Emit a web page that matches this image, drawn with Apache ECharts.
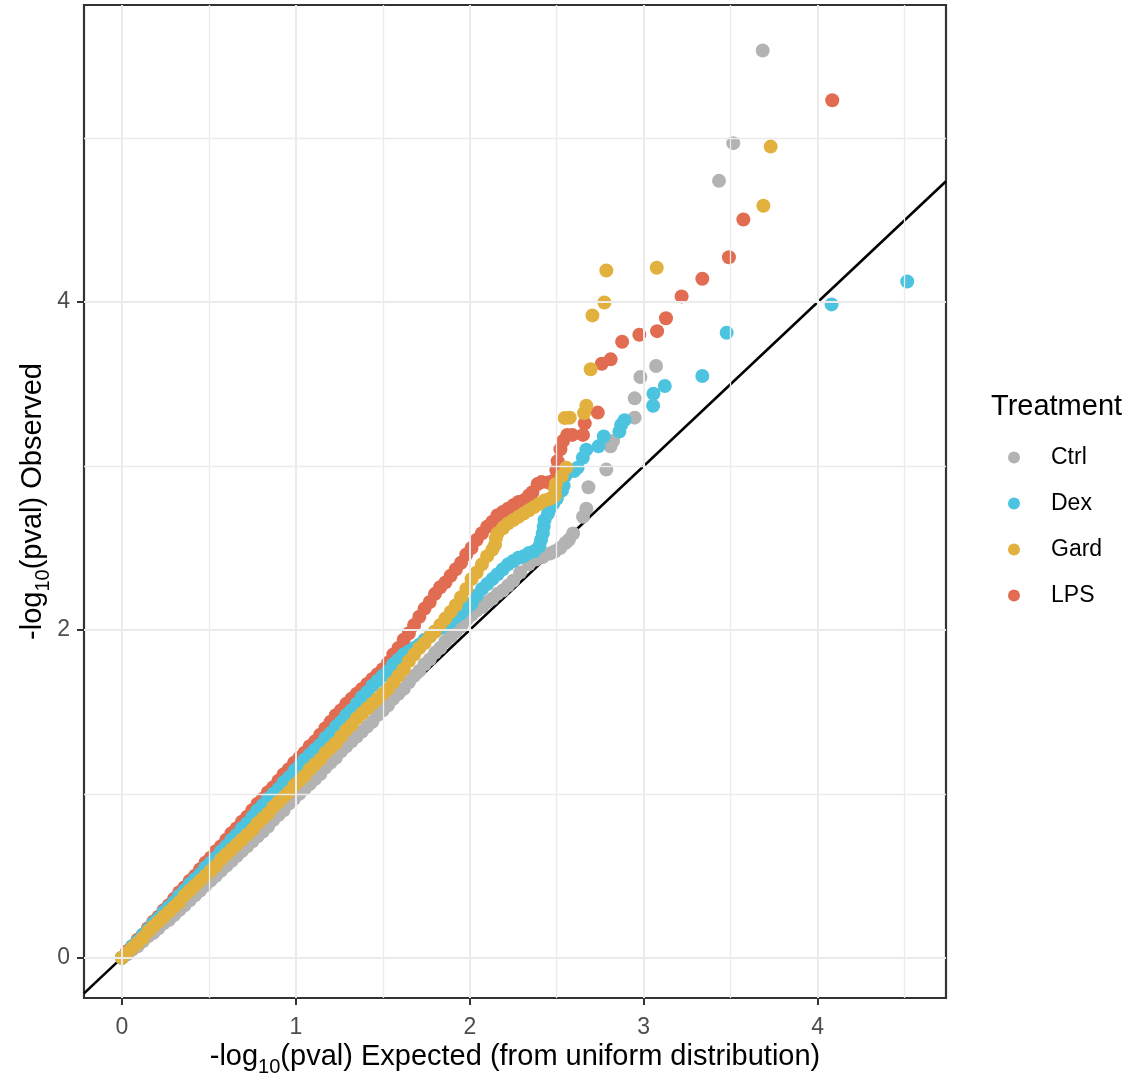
<!DOCTYPE html>
<html>
<head>
<meta charset="utf-8">
<script src="https://cdn.jsdelivr.net/npm/echarts@6/dist/echarts.min.js"></script>
<style>
  html, body { margin: 0; padding: 0; background: #fff; }
  #main { width: 1131px; height: 1080px; }
</style>
</head>
<body>
<div id="main"></div>
<script>
// expected -log10(p) for the dense part of the QQ curves
var expectedX = [
  0, 0.03, 0.06, 0.09, 0.12, 0.15, 0.18, 0.21, 0.24, 0.27,
  0.30, 0.33, 0.36, 0.39, 0.42, 0.45, 0.48, 0.51, 0.54, 0.57,
  0.60, 0.63, 0.66, 0.69, 0.72, 0.75, 0.78, 0.81, 0.84, 0.87,
  0.90, 0.93, 0.96, 0.99, 1.02, 1.05, 1.08, 1.11, 1.14, 1.17,
  1.20, 1.23, 1.26, 1.29, 1.32, 1.35, 1.38, 1.41, 1.44, 1.47,
  1.50, 1.53, 1.56, 1.59, 1.62, 1.65, 1.68, 1.71, 1.74, 1.77,
  1.80, 1.83, 1.86, 1.89, 1.92, 1.95, 1.98, 2.01, 2.04
];

// observed -log10(p) at expectedX, one array per treatment
var ctrlObs = [
  0, 0.02, 0.05, 0.07, 0.10, 0.13, 0.15, 0.18, 0.21, 0.23,
  0.26, 0.29, 0.32, 0.35, 0.38, 0.41, 0.44, 0.47, 0.50, 0.53,
  0.56, 0.59, 0.62, 0.65, 0.68, 0.71, 0.74, 0.77, 0.80, 0.84,
  0.87, 0.90, 0.94, 0.97, 1.00, 1.03, 1.06, 1.09, 1.12, 1.16,
  1.19, 1.22, 1.26, 1.29, 1.32, 1.35, 1.38, 1.41, 1.44, 1.48,
  1.51, 1.54, 1.58, 1.61, 1.64, 1.68, 1.72, 1.75, 1.79, 1.82,
  1.86, 1.89, 1.93, 1.96, 1.99, 2.02, 2.06, 2.09, 2.12
];
var dexObs = [
  0, 0.03, 0.07, 0.10, 0.14, 0.17, 0.21, 0.24, 0.28, 0.31,
  0.34, 0.38, 0.41, 0.45, 0.48, 0.51, 0.55, 0.58, 0.61, 0.65,
  0.68, 0.72, 0.75, 0.79, 0.82, 0.86, 0.90, 0.93, 0.97, 1.00,
  1.03, 1.07, 1.10, 1.14, 1.17, 1.21, 1.24, 1.27, 1.30, 1.34,
  1.37, 1.41, 1.44, 1.48, 1.51, 1.55, 1.59, 1.62, 1.66, 1.69,
  1.72, 1.75, 1.79, 1.82, 1.85, 1.87, 1.89, 1.91, 1.94, 1.96,
  1.99, 2.01, 2.03, 2.05, 2.08, 2.10, 2.13, 2.16, 2.21
];
var gardObs = [
  0, 0.03, 0.06, 0.09, 0.12, 0.16, 0.19, 0.22, 0.25, 0.28,
  0.31, 0.34, 0.38, 0.41, 0.44, 0.47, 0.50, 0.53, 0.56, 0.60,
  0.63, 0.66, 0.69, 0.72, 0.75, 0.78, 0.82, 0.85, 0.88, 0.92,
  0.95, 0.98, 1.01, 1.05, 1.08, 1.11, 1.15, 1.18, 1.21, 1.25,
  1.28, 1.31, 1.35, 1.39, 1.42, 1.46, 1.49, 1.52, 1.55, 1.58,
  1.61, 1.64, 1.68, 1.72, 1.76, 1.81, 1.85, 1.89, 1.92, 1.96,
  1.99, 2.03, 2.07, 2.11, 2.15, 2.20, 2.25, 2.31, 2.35
];
var lpsObs = [
  0, 0.04, 0.07, 0.11, 0.14, 0.18, 0.22, 0.25, 0.29, 0.32,
  0.36, 0.40, 0.43, 0.47, 0.50, 0.54, 0.58, 0.61, 0.65, 0.68,
  0.72, 0.76, 0.79, 0.83, 0.86, 0.90, 0.94, 0.97, 1.01, 1.04,
  1.08, 1.12, 1.15, 1.19, 1.22, 1.25, 1.29, 1.32, 1.36, 1.40,
  1.44, 1.48, 1.51, 1.55, 1.58, 1.61, 1.64, 1.67, 1.70, 1.73,
  1.76, 1.80, 1.85, 1.89, 1.94, 1.98, 2.03, 2.08, 2.13, 2.17,
  2.22, 2.26, 2.29, 2.33, 2.37, 2.41, 2.46, 2.50, 2.55
];

// sparse upper tails, [expected, observed]
var ctrlTail = [
  [2.07, 2.14], [2.10, 2.17], [2.13, 2.19], [2.16, 2.22], [2.19, 2.24],
  [2.22, 2.27], [2.25, 2.30], [2.29, 2.35], [2.34, 2.40], [2.38, 2.43],
  [2.42, 2.445], [2.46, 2.466], [2.49, 2.48], [2.52, 2.50], [2.55, 2.53],
  [2.57, 2.55], [2.594, 2.588], [2.651, 2.69], [2.67, 2.74], [2.682, 2.87],
  [2.785, 2.978], [2.809, 3.12], [2.824, 3.152], [2.948, 3.295], [2.948, 3.413],
  [2.981, 3.543], [3.071, 3.61], [3.433, 4.74], [3.515, 4.97], [3.684, 5.535]
];
var dexTail = [
  [2.07, 2.25], [2.10, 2.28], [2.13, 2.31], [2.16, 2.34], [2.19, 2.37],
  [2.22, 2.40], [2.25, 2.42], [2.28, 2.44], [2.31, 2.45], [2.34, 2.47],
  [2.37, 2.48], [2.40, 2.51], [2.41, 2.55], [2.42, 2.59], [2.425, 2.63],
  [2.43, 2.67], [2.45, 2.71], [2.46, 2.74], [2.48, 2.77], [2.50, 2.80],
  [2.53, 2.85], [2.54, 2.88], [2.55, 2.94], [2.60, 2.97], [2.62, 2.99],
  [2.65, 3.05], [2.67, 3.10], [2.74, 3.12], [2.77, 3.18], [2.86, 3.21],
  [2.87, 3.25], [2.89, 3.28], [3.054, 3.368], [3.056, 3.441], [3.121, 3.488],
  [3.337, 3.549], [3.477, 3.813], [4.08, 3.986], [4.515, 4.126]
];
var gardTail = [
  [2.07, 2.40], [2.10, 2.45], [2.13, 2.49], [2.145, 2.52], [2.15, 2.56],
  [2.16, 2.59], [2.19, 2.62], [2.22, 2.65], [2.25, 2.67], [2.28, 2.69],
  [2.31, 2.71], [2.34, 2.73], [2.37, 2.75], [2.40, 2.77], [2.43, 2.79],
  [2.46, 2.80], [2.49, 2.82], [2.49, 2.86], [2.495, 2.89], [2.53, 2.94],
  [2.555, 2.99], [2.546, 3.293], [2.575, 3.295], [2.657, 3.323], [2.670, 3.368],
  [2.695, 3.590], [2.705, 3.919], [2.774, 3.998], [2.785, 4.193], [3.075, 4.210],
  [3.688, 4.588], [3.730, 4.949]
];
var lpsTail = [
  [2.07, 2.59], [2.10, 2.63], [2.13, 2.66], [2.16, 2.70], [2.19, 2.72],
  [2.22, 2.74], [2.25, 2.76], [2.28, 2.78], [2.31, 2.79], [2.34, 2.82],
  [2.36, 2.84], [2.39, 2.89], [2.412, 2.902], [2.45, 2.90], [2.48, 2.91],
  [2.498, 2.974], [2.505, 3.03], [2.521, 3.102], [2.536, 3.152], [2.56, 3.19],
  [2.59, 3.19], [2.651, 3.19], [2.661, 3.26], [2.736, 3.326], [2.759, 3.624],
  [2.810, 3.651], [2.876, 3.758], [2.975, 3.801], [3.077, 3.823], [3.128, 3.902],
  [3.218, 4.035], [3.337, 4.143], [3.490, 4.274], [3.573, 4.504], [4.084, 5.232]
];

var treatments = ['Ctrl', 'Dex', 'Gard', 'LPS'];
var xTicks = [0, 1, 2, 3, 4];
var xMinor = [0.5, 1.5, 2.5, 3.5, 4.5];
var yTicks = [0, 2, 4];
var yMinor = [1, 3, 5];
var xRange = [-0.218, 4.738];
var yRange = [-0.246, 5.813];
var refLine = [[-0.218, -0.218], [4.738, 4.738]];

var FONT = '"Liberation Sans", Arial, Helvetica, sans-serif';
var colors = { Ctrl: '#B3B3B3', Dex: '#4CC4DF', Gard: '#E2B13D', LPS: '#E16C51' };

function qq(obs, tail) {
  return expectedX.map(function (x, i) { return [x, obs[i]]; }).concat(tail);
}

function pointSeries(name, data) {
  return {
    name: name,
    type: 'scatter',
    data: data,
    symbol: 'circle',
    symbolSize: 14,
    itemStyle: { color: colors[name], opacity: 1 },
    emphasis: { disabled: true },
    silent: true,
    progressive: 0,
    z: 3
  };
}

var gridLines = [];
xTicks.forEach(function (v) { gridLines.push({ xAxis: v, lineStyle: { width: 2 } }); });
xMinor.forEach(function (v) { gridLines.push({ xAxis: v, lineStyle: { width: 1.3 } }); });
yTicks.forEach(function (v) { gridLines.push({ yAxis: v, lineStyle: { width: 2 } }); });
yMinor.forEach(function (v) { gridLines.push({ yAxis: v, lineStyle: { width: 1.3 } }); });

var titleRich = {
  sub: { fontSize: 20, lineHeight: 20, verticalAlign: 'bottom', fontFamily: FONT, color: '#000' }
};

var myChart = echarts.init(document.getElementById('main'));
var option = {
  animation: false,
  backgroundColor: '#fff',
  textStyle: { fontFamily: FONT },
  grid: {
    left: 84, top: 5, width: 862, height: 993,
    show: true, borderColor: '#333333', borderWidth: 2.2, backgroundColor: '#fff',
    containLabel: false, outerBoundsMode: 'none'
  },
  title: {
    text: 'Treatment', left: 991, top: 392, padding: 0,
    textStyle: { fontSize: 29, fontWeight: 'normal', color: '#000', fontFamily: FONT }
  },
  legend: {
    orient: 'vertical', left: 1008, top: 446, padding: 0,
    itemWidth: 64, itemHeight: 12, itemGap: 23, icon: 'circle',
    selectedMode: false, data: treatments,
    textStyle: { fontSize: 23, lineHeight: 23, color: '#000', fontFamily: FONT }
  },
  xAxis: {
    type: 'value', min: xRange[0], max: xRange[1],
    axisLine: { show: false, onZero: false },
    axisTick: { show: true, customValues: xTicks, length: 7, lineStyle: { color: '#333', width: 2 } },
    axisLabel: { customValues: xTicks, color: '#4D4D4D', fontSize: 23, margin: 18, fontFamily: FONT },
    splitLine: { show: false },
    name: '-log{sub|10}(pval) Expected (from uniform distribution)',
    nameLocation: 'middle', nameGap: 39, nameMoveOverlap: false,
    nameTextStyle: { fontSize: 29, lineHeight: 40, color: '#000', fontFamily: FONT, rich: titleRich }
  },
  yAxis: {
    type: 'value', min: yRange[0], max: yRange[1],
    axisLine: { show: false, onZero: false },
    axisTick: { show: true, customValues: yTicks, length: 7, lineStyle: { color: '#333', width: 2 } },
    axisLabel: { customValues: yTicks, color: '#4D4D4D', fontSize: 23, margin: 14, fontFamily: FONT },
    splitLine: { show: false },
    name: '-log{sub|10}(pval) Observed',
    nameLocation: 'middle', nameGap: 31, nameRotate: 90, nameMoveOverlap: false,
    nameTextStyle: { fontSize: 29, lineHeight: 40, color: '#000', fontFamily: FONT, rich: titleRich }
  },
  series: [
    {
      name: 'gridlines', type: 'line', data: [], z: 0, silent: true,
      markLine: {
        silent: true, symbol: ['none', 'none'], label: { show: false },
        lineStyle: { color: '#EBEBEB', type: 'solid' },
        emphasis: { disabled: true },
        animation: false,
        data: gridLines
      }
    },
    {
      name: 'y = x', type: 'line', data: refLine, z: 1, silent: true,
      showSymbol: false, symbol: 'none', clip: true,
      lineStyle: { color: '#000', width: 2.6 },
      emphasis: { disabled: true }
    },
    pointSeries('Ctrl', qq(ctrlObs, ctrlTail)),
    pointSeries('LPS', qq(lpsObs, lpsTail)),
    pointSeries('Dex', qq(dexObs, dexTail)),
    pointSeries('Gard', qq(gardObs, gardTail))
  ]
};
myChart.setOption(option);
</script>
</body>
</html>
